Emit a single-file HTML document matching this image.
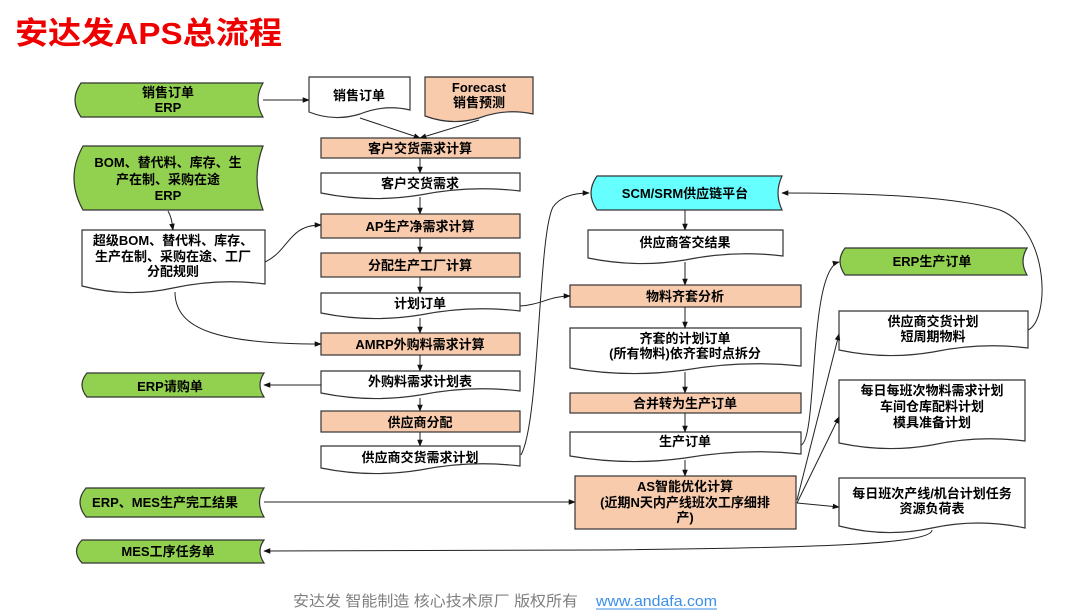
<!DOCTYPE html>
<html><head><meta charset="utf-8"><style>
html,body{margin:0;padding:0;background:#fff;}
svg{display:block;font-family:"Liberation Sans","Noto Sans CJK SC",sans-serif;}
.t{font-size:13px;font-weight:bold;fill:#000;text-anchor:middle;}
.s{stroke:#333;stroke-width:1.2;}
.c{fill:none;stroke:#222;stroke-width:1;}
</style></head><body>
<svg width="1068" height="616" viewBox="0 0 1068 616" xmlns="http://www.w3.org/2000/svg">
<defs><marker id="a" viewBox="0 0 10 10" refX="9" refY="5" markerWidth="7" markerHeight="7" orient="auto-start-reverse"><path d="M0,1L10,5L0,9Z" fill="#111"/></marker></defs>
<text x="15" y="44" font-size="31" font-weight="bold" fill="#ee0000" textLength="267" lengthAdjust="spacingAndGlyphs">安达发APS总流程</text>

<g class="s" fill="#92d050">
<path d="M81,83H263Q253,100 263,117H81Q69,100 81,83Z"/>
<path d="M83,146H263Q251,178 263,210H83Q65,178 83,146Z"/>
<path d="M87,373H264Q256,385 264,397H87Q77,385 87,373Z"/>
<path d="M86,488H264Q255,502 264,517H86Q74,502 86,488Z"/>
<path d="M82,540H264Q256,551 264,563H82Q71,551 82,540Z"/>
<path d="M845,248H1027Q1019,261 1027,275H845Q835,261 845,248Z"/>
</g>
<path class="s" fill="#66ffff" d="M597,176H782Q774,193 782,210H597Q585,193 597,176Z"/>

<g class="s" fill="#fff">
<path d="M309,77H410V110Q385,104 360,114Q334,122 309,112Z"/>
<path d="M321,173H520V191Q470,185 420,195Q370,203 321,193Z"/>
<path d="M82,230H265V284Q219,278 173,288Q128,298 82,286Z"/>
<path d="M321,293H520V311Q470,305 420,315Q370,323 321,313Z"/>
<path d="M321,371H520V391Q470,385 420,395Q370,403 321,393Z"/>
<path d="M321,446H520V466Q470,460 420,470Q370,478 321,468Z"/>
<path d="M588,230H783V256Q734,250 685,260Q637,268 588,258Z"/>
<path d="M570,328H801V366Q743,360 685,370Q628,378 570,368Z"/>
<path d="M570,432H801V454Q743,448 685,458Q628,466 570,456Z"/>
<path d="M839,311H1028V348Q981,342 933,352Q886,360 839,350Z"/>
<path d="M839,380H1025V441Q978,435 932,445Q886,453 839,443Z"/>
<path d="M839,478H1025V528Q978,518 932,528Q886,538 839,526Z"/>
</g>
<path class="s" fill="#f8cbad" d="M425,77H533V114Q506,108 479,118Q452,126 425,116Z"/>

<g class="s" fill="#f8cbad">
<rect x="321" y="138" width="199" height="20"/>
<rect x="321" y="214" width="199" height="24"/>
<rect x="321" y="253" width="199" height="24"/>
<rect x="321" y="333" width="199" height="22"/>
<rect x="321" y="411" width="199" height="21"/>
<rect x="570" y="285" width="231" height="22"/>
<rect x="570" y="393" width="231" height="20"/>
<rect x="575" y="476" width="221" height="53"/>
</g>

<g class="c" marker-end="url(#a)">
<path d="M263,100H309"/>
<path d="M360,118L420,138"/>
<path d="M479,120L420,138"/>
<path d="M420,158V173"/><path d="M420,197V214"/><path d="M420,238V253"/><path d="M420,277V293"/>
<path d="M420,318V333"/><path d="M420,355V371"/><path d="M420,398V411"/><path d="M420,432V446"/>
<path d="M168,211C172,218 172,224 173,230"/>
<path d="M265,262C290,250 288,225 321,225"/>
<path d="M175,292C175,330 220,344 321,344"/>
<path d="M520,306C540,305 550,296 570,296"/>
<path d="M321,385H264"/>
<path d="M521,455C540,420 538,235 553,207Q563,193 589,193"/>
<path d="M685,210V230"/><path d="M685,262V285"/><path d="M685,307V328"/><path d="M685,372V393"/><path d="M685,413V432"/><path d="M685,460V476"/>
<path d="M801,445C818,440 808,270 839,262"/>
<path d="M797,500L839,334"/>
<path d="M797,503L839,417"/>
<path d="M797,503L839,507"/>
<path d="M264,502H575"/>
<path d="M932,530C932,545 800,548 600,550L264,551"/>
<path d="M1028,330C1050,320 1050,230 1000,210C950,195 850,193 782,193"/>
</g>

<g class="t">
<text x="168" y="97">销售订单</text><text x="168" y="112">ERP</text>
<text x="168" y="167">BOM、替代料、库存、生</text><text x="168" y="184">产在制、采购在途</text><text x="168" y="200">ERP</text>
<text x="170" y="391">ERP请购单</text>
<text x="165" y="507">ERP、MES生产完工结果</text>
<text x="168" y="556">MES工序任务单</text>
<text x="932" y="266">ERP生产订单</text>
<text x="685" y="198">SCM/SRM供应链平台</text>
<text x="359" y="100">销售订单</text>
<text x="479" y="92">Forecast</text><text x="479" y="107">销售预测</text>
<text x="420" y="153">客户交货需求计算</text>
<text x="420" y="188">客户交货需求</text>
<text x="420" y="231">AP生产净需求计算</text>
<text x="420" y="270">分配生产工厂计算</text>
<text x="420" y="308">计划订单</text>
<text x="420" y="349">AMRP外购料需求计算</text>
<text x="420" y="386">外购料需求计划表</text>
<text x="420" y="427">供应商分配</text>
<text x="420" y="462">供应商交货需求计划</text>
<text x="173" y="245">超级BOM、替代料、库存、</text><text x="173" y="261">生产在制、采购在途、工厂</text><text x="173" y="276">分配规则</text>
<text x="685" y="247">供应商答交结果</text>
<text x="685" y="301">物料齐套分析</text>
<text x="685" y="343">齐套的计划订单</text><text x="685" y="358">(所有物料)依齐套时点拆分</text>
<text x="685" y="408">合并转为生产订单</text>
<text x="685" y="446">生产订单</text>
<text x="685" y="491">AS智能优化计算</text><text x="685" y="507">(近期N天内产线班次工序细排</text><text x="685" y="522">产)</text>
<text x="933" y="326">供应商交货计划</text><text x="933" y="341">短周期物料</text>
<text x="932" y="395">每日每班次物料需求计划</text><text x="932" y="411">车间仓库配料计划</text><text x="932" y="427">模具准备计划</text>
<text x="932" y="498">每日班次产线/机台计划任务</text><text x="932" y="513">资源负荷表</text>
</g>
<text x="293" y="606" font-size="15" fill="#7f7f7f" textLength="285" lengthAdjust="spacingAndGlyphs">安达发   智能制造 核心技术原厂   版权所有</text>
<text x="596" y="606" font-size="15" fill="#3b8fe8" textLength="121" lengthAdjust="spacingAndGlyphs">www.andafa.com</text>
<line x1="596" y1="609" x2="717" y2="609" stroke="#3b8fe8" stroke-width="1"/>
</svg>
</body></html>
